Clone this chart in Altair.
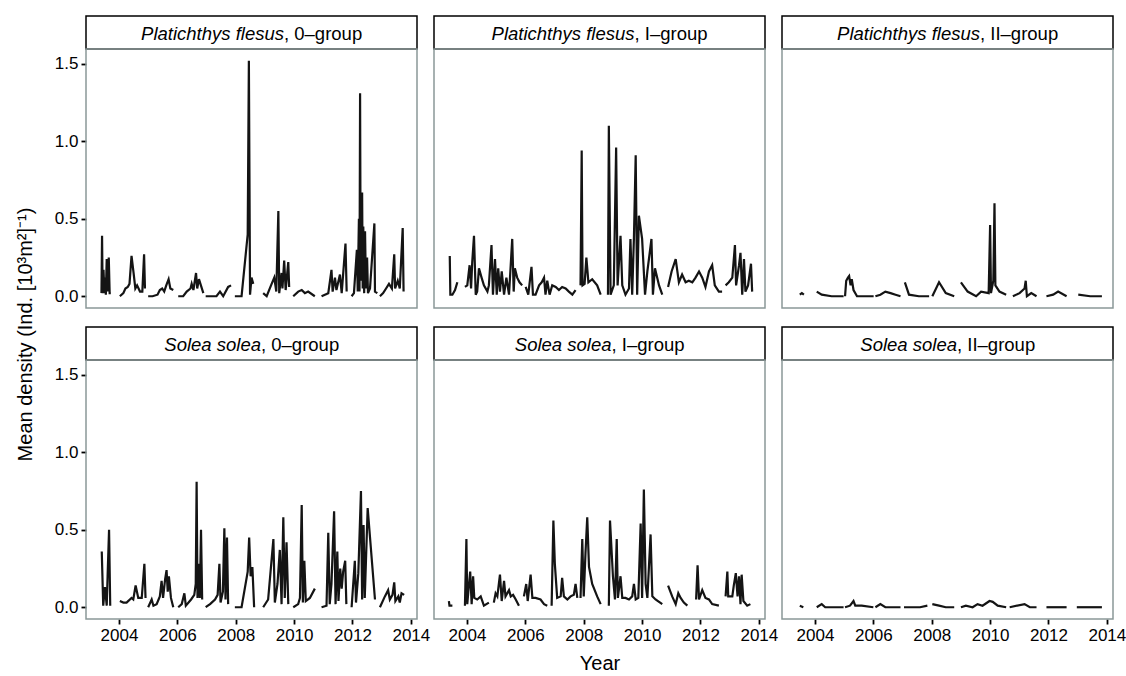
import altair as alt
import pandas as pd

# ---------------- data (decimal year, mean density) ----------------
PF0 = [
    [(2003.40, 0.02), (2003.42, 0.39), (2003.44, 0.02), (2003.47, 0.17), (2003.50, 0.02), (2003.53, 0.12),
     (2003.55, 0.01), (2003.58, 0.24), (2003.61, 0.03), (2003.65, 0.25), (2003.68, 0.02), (2003.72, 0.02)],
    [(2004.03, 0.0), (2004.15, 0.02), (2004.22, 0.05), (2004.30, 0.06), (2004.36, 0.08), (2004.43, 0.26),
     (2004.50, 0.15), (2004.56, 0.05), (2004.62, 0.07), (2004.72, 0.03), (2004.80, 0.03), (2004.86, 0.27),
     (2004.89, 0.05)],
    [(2005.00, 0.0), (2005.15, 0.0), (2005.32, 0.01), (2005.40, 0.04), (2005.48, 0.05), (2005.55, 0.03),
     (2005.62, 0.07), (2005.70, 0.11), (2005.76, 0.05), (2005.86, 0.04)],
    [(2006.03, 0.0), (2006.20, 0.0), (2006.32, 0.03), (2006.45, 0.05), (2006.49, 0.08), (2006.55, 0.04),
     (2006.64, 0.15), (2006.68, 0.05), (2006.74, 0.11), (2006.89, 0.02)],
    [(2006.97, 0.0), (2007.34, 0.0), (2007.46, 0.03), (2007.57, 0.0), (2007.74, 0.06), (2007.84, 0.07)],
    [(2007.97, 0.0), (2008.20, 0.0), (2008.41, 0.40), (2008.45, 1.52), (2008.49, 0.01), (2008.54, 0.12),
     (2008.60, 0.08)],
    [(2008.94, 0.02), (2009.06, 0.0), (2009.23, 0.08), (2009.32, 0.12), (2009.39, 0.03), (2009.46, 0.55),
     (2009.49, 0.02), (2009.57, 0.15), (2009.60, 0.05), (2009.66, 0.23), (2009.71, 0.04), (2009.80, 0.22),
     (2009.83, 0.06)],
    [(2009.97, 0.0), (2010.14, 0.03), (2010.26, 0.04), (2010.37, 0.02), (2010.48, 0.03), (2010.71, 0.0)],
    [(2010.94, 0.0), (2011.17, 0.02), (2011.23, 0.10), (2011.28, 0.17), (2011.32, 0.03), (2011.40, 0.12),
     (2011.45, 0.04), (2011.57, 0.14), (2011.63, 0.02), (2011.76, 0.34), (2011.80, 0.03)],
    [(2011.97, 0.0), (2012.05, 0.02), (2012.15, 0.30), (2012.18, 0.03), (2012.22, 0.50), (2012.24, 0.03),
     (2012.26, 1.31), (2012.28, 0.10), (2012.33, 0.67), (2012.35, 0.05), (2012.37, 0.45), (2012.40, 0.02),
     (2012.43, 0.42), (2012.46, 0.05), (2012.50, 0.25), (2012.53, 0.02), (2012.60, 0.05), (2012.75, 0.47),
     (2012.77, 0.03), (2012.85, 0.02)],
    [(2012.94, 0.0), (2013.05, 0.02), (2013.15, 0.05), (2013.25, 0.08), (2013.35, 0.05), (2013.43, 0.27),
     (2013.46, 0.05), (2013.55, 0.10), (2013.62, 0.05), (2013.72, 0.44), (2013.75, 0.03)],
]

PF1 = [
    [(2003.41, 0.26), (2003.43, 0.01), (2003.50, 0.01), (2003.59, 0.04), (2003.67, 0.09)],
    [(2003.93, 0.06), (2004.01, 0.07), (2004.09, 0.20), (2004.14, 0.05), (2004.18, 0.22), (2004.24, 0.39),
     (2004.30, 0.01), (2004.35, 0.03), (2004.41, 0.18), (2004.50, 0.12), (2004.58, 0.07), (2004.70, 0.03),
     (2004.75, 0.07), (2004.84, 0.33), (2004.89, 0.01), (2004.96, 0.24), (2005.02, 0.01), (2005.07, 0.18),
     (2005.13, 0.03), (2005.19, 0.16), (2005.27, 0.01), (2005.35, 0.12), (2005.44, 0.01), (2005.55, 0.37),
     (2005.60, 0.03), (2005.64, 0.18), (2005.72, 0.12), (2005.80, 0.09), (2005.89, 0.07)],
    [(2006.01, 0.06), (2006.10, 0.01), (2006.21, 0.19), (2006.26, 0.01), (2006.35, 0.01), (2006.47, 0.07),
     (2006.56, 0.09), (2006.64, 0.12), (2006.69, 0.01), (2006.75, 0.10), (2006.83, 0.01), (2006.92, 0.07),
     (2007.04, 0.06), (2007.15, 0.04), (2007.26, 0.06), (2007.38, 0.05), (2007.49, 0.03), (2007.61, 0.01),
     (2007.72, 0.04)],
    [(2007.89, 0.07), (2007.93, 0.94), (2007.96, 0.07), (2008.03, 0.08), (2008.09, 0.25), (2008.16, 0.09),
     (2008.29, 0.11), (2008.46, 0.07), (2008.58, 0.01)],
    [(2008.83, 0.01), (2008.86, 1.10), (2008.92, 0.01), (2009.03, 0.07), (2009.11, 0.96), (2009.16, 0.07),
     (2009.26, 0.39), (2009.32, 0.07), (2009.43, 0.01), (2009.55, 0.05), (2009.60, 0.37), (2009.66, 0.01),
     (2009.72, 0.38), (2009.78, 0.91), (2009.83, 0.01), (2009.89, 0.52), (2010.00, 0.37), (2010.10, 0.01),
     (2010.18, 0.16), (2010.32, 0.37), (2010.37, 0.01), (2010.44, 0.18), (2010.58, 0.07), (2010.69, 0.01)],
    [(2010.89, 0.06), (2011.01, 0.16), (2011.15, 0.24), (2011.26, 0.09), (2011.37, 0.14), (2011.49, 0.09),
     (2011.60, 0.10), (2011.72, 0.09), (2011.83, 0.12), (2011.95, 0.16), (2012.06, 0.12), (2012.17, 0.06),
     (2012.29, 0.16), (2012.40, 0.20), (2012.49, 0.07), (2012.63, 0.03), (2012.74, 0.03)],
    [(2012.86, 0.07), (2012.97, 0.09), (2013.09, 0.12), (2013.18, 0.33), (2013.22, 0.07), (2013.32, 0.20),
     (2013.37, 0.28), (2013.43, 0.01), (2013.49, 0.24), (2013.54, 0.03), (2013.63, 0.07), (2013.73, 0.21),
     (2013.77, 0.03)],
]

PF2 = [
    [(2003.48, 0.01), (2003.55, 0.02), (2003.62, 0.01)],
    [(2004.06, 0.03), (2004.23, 0.01), (2004.57, 0.0), (2004.98, 0.0)],
    [(2005.03, 0.0), (2005.07, 0.10), (2005.13, 0.12), (2005.17, 0.13), (2005.22, 0.07), (2005.26, 0.11),
     (2005.32, 0.04), (2005.44, 0.0), (2006.01, 0.0)],
    [(2006.07, 0.0), (2006.24, 0.01), (2006.41, 0.03), (2006.59, 0.02), (2006.76, 0.01), (2006.93, 0.0)],
    [(2007.08, 0.09), (2007.22, 0.01), (2007.56, 0.0), (2007.91, 0.0)],
    [(2008.02, 0.0), (2008.25, 0.09), (2008.48, 0.02), (2008.77, 0.0)],
    [(2009.00, 0.09), (2009.23, 0.03), (2009.52, 0.0), (2009.69, 0.03), (2009.95, 0.02), (2010.00, 0.46),
     (2010.03, 0.02), (2010.11, 0.10), (2010.15, 0.60), (2010.18, 0.07), (2010.32, 0.03), (2010.55, 0.01)],
    [(2010.78, 0.0), (2011.01, 0.02), (2011.18, 0.05), (2011.22, 0.10), (2011.26, 0.0), (2011.41, 0.02),
     (2011.59, 0.0)],
    [(2011.93, 0.0), (2012.16, 0.01), (2012.33, 0.03), (2012.62, 0.0)],
    [(2013.02, 0.01), (2013.43, 0.0), (2013.83, 0.0)],
]

SS0 = [
    [(2003.41, 0.36), (2003.46, 0.01), (2003.52, 0.13), (2003.58, 0.01), (2003.61, 0.20), (2003.66, 0.50),
     (2003.70, 0.01)],
    [(2004.03, 0.04), (2004.15, 0.03), (2004.26, 0.03), (2004.43, 0.06), (2004.49, 0.05), (2004.57, 0.14),
     (2004.66, 0.06), (2004.78, 0.06), (2004.87, 0.28), (2004.91, 0.06)],
    [(2005.00, 0.0), (2005.12, 0.05), (2005.18, 0.01), (2005.29, 0.02), (2005.40, 0.07), (2005.46, 0.17),
     (2005.51, 0.06), (2005.58, 0.18), (2005.63, 0.24), (2005.67, 0.10), (2005.71, 0.20), (2005.78, 0.06),
     (2005.86, 0.0)],
    [(2006.03, 0.0), (2006.15, 0.02), (2006.24, 0.09), (2006.29, 0.01), (2006.47, 0.05), (2006.58, 0.08),
     (2006.63, 0.15), (2006.66, 0.81), (2006.69, 0.06), (2006.74, 0.28), (2006.77, 0.06), (2006.81, 0.50),
     (2006.85, 0.05)],
    [(2006.97, 0.0), (2007.12, 0.02), (2007.29, 0.05), (2007.38, 0.08), (2007.44, 0.28), (2007.48, 0.03),
     (2007.56, 0.10), (2007.61, 0.51), (2007.65, 0.05), (2007.70, 0.45), (2007.74, 0.02)],
    [(2007.97, 0.0), (2008.20, 0.0), (2008.41, 0.23), (2008.46, 0.45), (2008.51, 0.20), (2008.57, 0.26),
     (2008.63, 0.0)],
    [(2008.94, 0.0), (2009.11, 0.05), (2009.29, 0.44), (2009.34, 0.03), (2009.43, 0.15), (2009.51, 0.37),
     (2009.57, 0.02), (2009.63, 0.58), (2009.68, 0.06), (2009.74, 0.42), (2009.80, 0.02)],
    [(2009.97, 0.0), (2010.14, 0.02), (2010.20, 0.06), (2010.26, 0.66), (2010.30, 0.03), (2010.35, 0.30),
     (2010.40, 0.04), (2010.54, 0.06), (2010.71, 0.12)],
    [(2010.94, 0.0), (2011.11, 0.01), (2011.17, 0.48), (2011.22, 0.02), (2011.28, 0.15), (2011.37, 0.62),
     (2011.42, 0.02), (2011.48, 0.36), (2011.52, 0.04), (2011.58, 0.25), (2011.63, 0.12), (2011.68, 0.23),
     (2011.75, 0.30), (2011.79, 0.02)],
    [(2011.97, 0.0), (2012.08, 0.30), (2012.12, 0.03), (2012.20, 0.22), (2012.29, 0.75), (2012.33, 0.05),
     (2012.38, 0.53), (2012.42, 0.06), (2012.52, 0.64), (2012.77, 0.05)],
    [(2012.94, 0.0), (2013.11, 0.07), (2013.22, 0.11), (2013.28, 0.05), (2013.37, 0.08), (2013.43, 0.16),
     (2013.47, 0.04), (2013.57, 0.07), (2013.62, 0.03), (2013.68, 0.09), (2013.77, 0.08)],
]

SS1 = [
    [(2003.38, 0.04), (2003.40, 0.01), (2003.50, 0.01)],
    [(2003.93, 0.01), (2003.98, 0.44), (2004.01, 0.02), (2004.07, 0.15), (2004.11, 0.23), (2004.16, 0.02),
     (2004.21, 0.20), (2004.25, 0.06), (2004.35, 0.05), (2004.47, 0.07), (2004.58, 0.01), (2004.75, 0.03)],
    [(2004.92, 0.03), (2004.98, 0.09), (2005.04, 0.07), (2005.13, 0.21), (2005.19, 0.04), (2005.27, 0.17),
     (2005.32, 0.07), (2005.44, 0.11), (2005.50, 0.07), (2005.58, 0.08), (2005.67, 0.05), (2005.78, 0.01)],
    [(2005.95, 0.07), (2006.03, 0.15), (2006.08, 0.04), (2006.18, 0.21), (2006.24, 0.06), (2006.35, 0.06),
     (2006.52, 0.05), (2006.64, 0.02), (2006.75, 0.01)],
    [(2006.90, 0.01), (2006.96, 0.56), (2007.01, 0.28), (2007.09, 0.06), (2007.21, 0.07), (2007.26, 0.19),
     (2007.32, 0.07), (2007.44, 0.05), (2007.55, 0.07), (2007.66, 0.08), (2007.72, 0.15), (2007.78, 0.06)],
    [(2007.89, 0.06), (2007.95, 0.44), (2008.00, 0.07), (2008.06, 0.35), (2008.12, 0.58), (2008.18, 0.26),
     (2008.29, 0.15), (2008.46, 0.07), (2008.58, 0.02)],
    [(2008.86, 0.01), (2008.90, 0.56), (2009.00, 0.20), (2009.07, 0.05), (2009.13, 0.44), (2009.17, 0.06),
     (2009.26, 0.20), (2009.32, 0.06), (2009.43, 0.06), (2009.55, 0.05), (2009.66, 0.07), (2009.72, 0.15),
     (2009.78, 0.05), (2009.87, 0.06), (2009.95, 0.54), (2010.00, 0.06), (2010.06, 0.76), (2010.12, 0.15),
     (2010.18, 0.06), (2010.29, 0.47), (2010.35, 0.07), (2010.46, 0.05), (2010.69, 0.02)],
    [(2010.89, 0.14), (2011.03, 0.07), (2011.15, 0.02), (2011.24, 0.09), (2011.32, 0.06), (2011.43, 0.03),
     (2011.55, 0.01)],
    [(2011.85, 0.05), (2011.90, 0.27), (2011.95, 0.05), (2012.06, 0.11), (2012.17, 0.06), (2012.29, 0.05),
     (2012.40, 0.02), (2012.63, 0.01)],
    [(2012.86, 0.07), (2012.92, 0.23), (2012.95, 0.07), (2013.09, 0.07), (2013.14, 0.14), (2013.21, 0.22),
     (2013.27, 0.07), (2013.32, 0.20), (2013.37, 0.02), (2013.41, 0.21), (2013.47, 0.04), (2013.60, 0.01),
     (2013.71, 0.02)],
]

SS2 = [
    [(2003.48, 0.01), (2003.60, 0.0)],
    [(2004.06, 0.0), (2004.23, 0.02), (2004.35, 0.0), (2004.98, 0.0)],
    [(2005.03, 0.0), (2005.20, 0.01), (2005.32, 0.04), (2005.38, 0.01), (2005.60, 0.01), (2006.00, 0.0)],
    [(2006.07, 0.0), (2006.24, 0.02), (2006.41, 0.0), (2006.93, 0.0)],
    [(2007.05, 0.0), (2007.60, 0.0), (2007.85, 0.01)],
    [(2008.02, 0.02), (2008.25, 0.01), (2008.48, 0.0), (2008.77, 0.0)],
    [(2009.00, 0.0), (2009.17, 0.01), (2009.40, 0.0), (2009.57, 0.02), (2009.74, 0.01), (2009.98, 0.04),
     (2010.09, 0.035), (2010.26, 0.01), (2010.55, 0.0)],
    [(2010.67, 0.0), (2011.18, 0.02), (2011.36, 0.0), (2011.59, 0.0)],
    [(2011.93, 0.0), (2012.62, 0.0)],
    [(2012.97, 0.0), (2013.83, 0.0)],
]

SPECIES = ["Platichthys flesus", "Solea solea"]
GROUPS = [", 0\u2013group", ", I\u2013group", ", II\u2013group"]
SERIES = [[PF0, PF1, PF2], [SS0, SS1, SS2]]

YEAR_TICKS = [2004, 2006, 2008, 2010, 2012, 2014]
Y_TICKS = [0.0, 0.5, 1.0, 1.5]
Y_TITLE = "Mean density (Ind. [10\u00b3m\u00b2]\u207b\u00b9)"
X_TITLE = "Year"

# ---------------- layout / style ----------------
W, H, SH, GAP, HSP = 331, 259, 33, 19, 17
XDOM = [2002.87, 2014.21]
YDOM = [-0.076, 1.596]
FONT = "Liberation Sans"
BORDER = "#8a9898"
LINE = "#141414"
STRIP_FS = 18.5
# x split point between italic species and plain group text (centres the pair)
SPLIT = [[198, 200.5, 198], [175, 177.5, 175]]


def frame(segs):
    rows = []
    for i, seg in enumerate(segs):
        for t, v in seg:
            rows.append({"t": t, "v": v, "seg": i})
    return pd.DataFrame(rows)


def strip(r, c):
    top = 0 if r == 0 else GAP
    d = pd.DataFrame({"sp": [SPECIES[r]], "gr": [GROUPS[c]]})
    base = alt.Chart(d)
    box = base.mark_rect(fill="white", stroke="black", strokeWidth=1.5).encode(
        x=alt.value(0), x2=alt.value(W), y=alt.value(top), y2=alt.value(top + SH))
    t1 = base.mark_text(font=FONT, fontSize=STRIP_FS, fontStyle="italic", align="right",
                        baseline="middle", color="black").encode(
        x=alt.value(SPLIT[r][c]), y=alt.value(top + SH / 2 + 1), text="sp:N")
    t2 = base.mark_text(font=FONT, fontSize=STRIP_FS, align="left",
                        baseline="middle", color="black").encode(
        x=alt.value(SPLIT[r][c]), y=alt.value(top + SH / 2 + 1), text="gr:N")
    return alt.layer(box, t1, t2).properties(width=W, height=top + SH)


def axis_common():
    return dict(labelFont=FONT, labelFontSize=17, labelColor="black", tickColor="black",
                tickWidth=1.8, tickSize=5, labelPadding=3, domain=False, grid=False,
                titleFont=FONT, titleFontSize=20, titleFontWeight="normal", titleColor="black")


def panel(r, c):
    df = frame(SERIES[r][c])
    if r == 1:
        xax = alt.Axis(values=YEAR_TICKS, format="d", title=X_TITLE if c == 1 else "",
                       titleY=44, titleBaseline="middle", **axis_common())
    else:
        xax = None
    if c == 0:
        yax = alt.Axis(values=Y_TICKS, format=".1f", title=Y_TITLE if r == 0 else "",
                       titleX=-61, titleY=(2 * H + SH + GAP) / 2, titleAngle=270,
                       titleAlign="center", titleBaseline="middle", **axis_common())
    else:
        yax = None
    line = alt.Chart(df).mark_line(color=LINE, strokeWidth=2.2, clip=True).encode(
        x=alt.X("t:Q", scale=alt.Scale(domain=XDOM, nice=False, zero=False), axis=xax),
        y=alt.Y("v:Q", scale=alt.Scale(domain=YDOM, nice=False, zero=False), axis=yax),
        detail="seg:N",
        order="t:Q",
    )
    border = alt.Chart(pd.DataFrame({"a": [0]})).mark_rect(
        filled=False, stroke=BORDER, strokeWidth=1.5).encode(
        x=alt.value(0), x2=alt.value(W), y=alt.value(0), y2=alt.value(H))
    return alt.layer(line, border).properties(width=W, height=H)


cells = []
for r in range(2):
    cells += [strip(r, c) for c in range(3)]
    cells += [panel(r, c) for c in range(3)]

chart = alt.concat(*cells, columns=3, spacing={"row": 0, "column": HSP},
                   bounds="flush", align="each").properties(
    padding={"left": 15, "top": 15, "right": 0, "bottom": 0},
    background="white",
).configure_view(stroke=None)

chart.save("out.html", embed_options={"renderer": "svg", "actions": False})
